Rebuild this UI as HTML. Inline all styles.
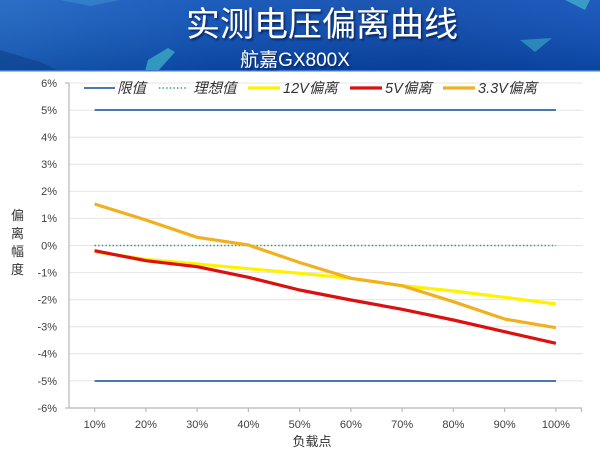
<!DOCTYPE html>
<html><head><meta charset="utf-8">
<style>
html,body{margin:0;padding:0;background:#fff;}
#wrap{position:relative;width:600px;height:459px;overflow:hidden;background:#fff;}
svg{position:absolute;left:0;top:0;}
text{font-family:"Liberation Sans","Noto Sans CJK SC",sans-serif;}
</style></head>
<body><div id="wrap">
<svg width="600" height="459" viewBox="0 0 600 459" xmlns="http://www.w3.org/2000/svg">
<defs>
<linearGradient id="hg" x1="0" y1="0" x2="1" y2="0">
<stop offset="0" stop-color="#1a62c2"/>
<stop offset="0.35" stop-color="#0b4fb6"/>
<stop offset="0.7" stop-color="#0846ab"/>
<stop offset="1" stop-color="#0c4eb8"/>
</linearGradient>
<linearGradient id="hv" x1="0" y1="0" x2="0" y2="1">
<stop offset="0" stop-color="#ffffff" stop-opacity="0.08"/>
<stop offset="1" stop-color="#000000" stop-opacity="0.12"/>
</linearGradient>
<filter id="sh" x="-10%" y="-10%" width="120%" height="140%">
<feDropShadow dx="1.5" dy="2" stdDeviation="1" flood-color="#001a50" flood-opacity="0.8"/>
</filter>
</defs>
<!-- header -->
<rect x="0" y="0" width="600" height="71" fill="url(#hg)"/>
<rect x="0" y="0" width="600" height="71" fill="url(#hv)"/>
<polygon points="0,50 40,62 60,71 0,71" fill="#0d3f8c" opacity="0.6"/>
<polygon points="148,60 168,48 175,52 158,71 145,71" fill="#3fb0c8" opacity="0.75"/>
<polygon points="520,40 552,38 535,52" fill="#3fb8c6" opacity="0.55"/>
<polygon points="565,0 590,0 585,10" fill="#4cc4d0" opacity="0.6"/>
<polygon points="60,0 120,0 90,6" fill="#4aa8d8" opacity="0.35"/>
<rect x="0" y="70" width="600" height="1.5" fill="#3f78c8"/>
<text x="322" y="36" font-size="34" fill="#ffffff" text-anchor="middle" filter="url(#sh)" font-family="Liberation Sans,Noto Sans CJK SC,sans-serif">实测电压偏离曲线</text>
<text x="295" y="66" font-size="19" fill="#ffffff" text-anchor="middle" filter="url(#sh)">航嘉GX800X</text>

<!-- gridlines -->
<g stroke="#e4e4e4" stroke-width="1">
<line x1="69" y1="83" x2="583" y2="83"/>
<line x1="69" y1="110.1" x2="583" y2="110.1"/>
<line x1="69" y1="137.2" x2="583" y2="137.2"/>
<line x1="69" y1="164.3" x2="583" y2="164.3"/>
<line x1="69" y1="191.3" x2="583" y2="191.3"/>
<line x1="69" y1="218.4" x2="583" y2="218.4"/>
<line x1="69" y1="245.5" x2="583" y2="245.5"/>
<line x1="69" y1="272.6" x2="583" y2="272.6"/>
<line x1="69" y1="299.7" x2="583" y2="299.7"/>
<line x1="69" y1="326.7" x2="583" y2="326.7"/>
<line x1="69" y1="353.8" x2="583" y2="353.8"/>
<line x1="69" y1="380.9" x2="583" y2="380.9"/>
</g>
<!-- axes -->
<g stroke="#b8b8b8" stroke-width="1.2">
<line x1="69" y1="83" x2="69" y2="408"/>
<line x1="69" y1="408" x2="582" y2="408"/>
<line x1="65" y1="83" x2="69" y2="83"/>
<line x1="65" y1="408" x2="69" y2="408"/>
<line x1="94.6" y1="408" x2="94.6" y2="412"/>
<line x1="145.9" y1="408" x2="145.9" y2="412"/>
<line x1="197.1" y1="408" x2="197.1" y2="412"/>
<line x1="248.4" y1="408" x2="248.4" y2="412"/>
<line x1="299.6" y1="408" x2="299.6" y2="412"/>
<line x1="350.9" y1="408" x2="350.9" y2="412"/>
<line x1="402.1" y1="408" x2="402.1" y2="412"/>
<line x1="453.4" y1="408" x2="453.4" y2="412"/>
<line x1="504.6" y1="408" x2="504.6" y2="412"/>
<line x1="555.9" y1="408" x2="555.9" y2="412"/>
<line x1="581.5" y1="408" x2="581.5" y2="412"/>
</g>
<!-- y labels -->
<g font-size="11" fill="#404040" text-anchor="end">
<text x="57" y="87">6%</text>
<text x="57" y="114">5%</text>
<text x="57" y="141">4%</text>
<text x="57" y="168">3%</text>
<text x="57" y="195">2%</text>
<text x="57" y="222">1%</text>
<text x="57" y="249.5">0%</text>
<text x="57" y="276.5">-1%</text>
<text x="57" y="303.5">-2%</text>
<text x="57" y="330.5">-3%</text>
<text x="57" y="357.5">-4%</text>
<text x="57" y="385">-5%</text>
<text x="57" y="412">-6%</text>
</g>
<!-- x labels -->
<g font-size="11" fill="#404040" text-anchor="middle">
<text x="94.6" y="428">10%</text>
<text x="145.9" y="428">20%</text>
<text x="197.1" y="428">30%</text>
<text x="248.4" y="428">40%</text>
<text x="299.6" y="428">50%</text>
<text x="350.9" y="428">60%</text>
<text x="402.1" y="428">70%</text>
<text x="453.4" y="428">80%</text>
<text x="504.6" y="428">90%</text>
<text x="555.9" y="428">100%</text>
</g>
<text x="312" y="446" font-size="13" fill="#333" text-anchor="middle">负载点</text>
<g font-size="13" fill="#333" text-anchor="middle">
<text x="17.5" y="220">偏</text>
<text x="17.5" y="238">离</text>
<text x="17.5" y="256">幅</text>
<text x="17.5" y="274">度</text>
</g>

<!-- limit lines -->
<line x1="94.6" y1="110" x2="556" y2="110" stroke="#4a78b4" stroke-width="2"/>
<line x1="94.6" y1="381" x2="556" y2="381" stroke="#4a78b4" stroke-width="2"/>
<!-- ideal -->
<line x1="94.6" y1="245.5" x2="556" y2="245.5" stroke="#2f9a7a" stroke-width="1.6" stroke-dasharray="1.4,2.2"/>

<!-- series -->
<polyline fill="none" stroke="#fff200" stroke-width="3.2" stroke-linejoin="round"
points="94.6,251.7 145.9,259.3 197.1,264 248.4,268.7 299.6,273.3 350.9,278.3 402.1,285.7 453.4,291 504.6,297.3 555.9,304"/>
<polyline fill="none" stroke="#dc1010" stroke-width="3.2" stroke-linejoin="round"
points="94.6,250.7 145.9,260.7 197.1,266.7 248.4,277.3 299.6,290 350.9,300 402.1,309.3 453.4,320 504.6,331.7 555.9,343.3"/>
<polyline fill="none" stroke="#f0b020" stroke-width="3.2" stroke-linejoin="round"
points="94.6,204 145.9,220 197.1,237.3 248.4,245 299.6,262.5 350.9,278.3 402.1,285.7 453.4,301.7 504.6,319 555.9,327.7"/>

<!-- legend -->
<line x1="84" y1="88" x2="115" y2="88" stroke="#4a78b4" stroke-width="2"/>
<line x1="159" y1="88" x2="188" y2="88" stroke="#2f9a7a" stroke-width="1.5" stroke-dasharray="1.4,2.2"/>
<line x1="248" y1="88" x2="280" y2="88" stroke="#fff200" stroke-width="3.2"/>
<line x1="350" y1="88" x2="382" y2="88" stroke="#dc1010" stroke-width="3.2"/>
<line x1="443" y1="88" x2="475" y2="88" stroke="#f0b020" stroke-width="3.2"/>
<g font-size="14.5" fill="#333" font-style="italic">
<text x="117" y="93">限值</text>
<text x="193" y="93">理想值</text>
<text x="283" y="93">12V偏离</text>
<text x="385" y="93">5V偏离</text>
<text x="478" y="93">3.3V偏离</text>
</g>
</svg>
</div></body></html>
